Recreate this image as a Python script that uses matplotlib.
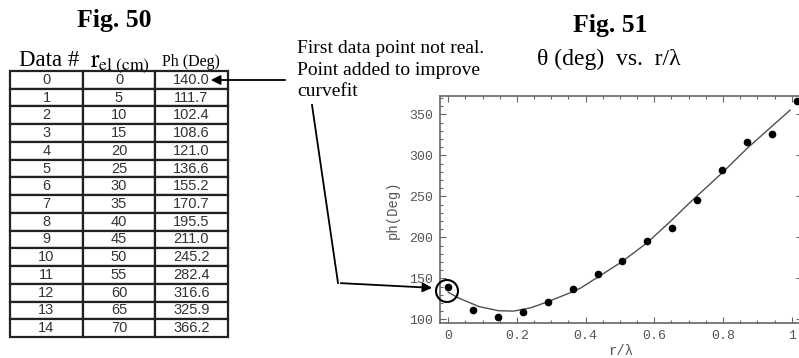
import numpy as np
import matplotlib.pyplot as plt
from matplotlib.patches import Circle

plt.rcParams['mathtext.fontset'] = 'stix'

# table data (Fig. 50)
data_no = list(range(15))
r_el = [0, 5, 10, 15, 20, 25, 30, 35, 40, 45, 50, 55, 60, 65, 70]
ph = [140.0, 111.7, 102.4, 108.6, 121.0, 136.6, 155.2, 170.7,
      195.5, 211.0, 245.2, 282.4, 316.6, 325.9, 366.2]
wavelength = 69.0  # cm

# curve fit (Fig. 51)
fit_x = [0.0, 0.03, 0.09, 0.146, 0.19, 0.24, 0.29, 0.35, 0.385, 0.43,
         0.505, 0.578, 0.646, 0.70, 0.796, 0.869, 0.995]
fit_y = [133, 126, 115.5, 110.5, 110, 114, 121.5, 131.5, 138, 150,
         170, 193, 219, 241, 278, 308, 355]

note = ['First data point not real.', 'Point added to improve', 'curvefit']

W, H = 799, 358
fig = plt.figure(figsize=(W / 100, H / 100), dpi=100)
mono = 'Liberation Mono'
serif = 'Liberation Serif'

# plot axes
ax = fig.add_axes([440 / W, 35 / H, 362 / W, 227.3 / H])
x = np.array(r_el) / wavelength
ax.plot(fit_x, fit_y, color='#505050', lw=1.0)
ax.plot(x, ph, 'o', color='black', ms=4.5)
ax.set_xlim(-0.024, 1.03)
ax.set_ylim(95.5, 372.7)
ax.set_xticks([0, 0.2, 0.4, 0.6, 0.8, 1.0])
ax.set_xticklabels(['0', '0.2', '0.4', '0.6', '0.8', '1'])
ax.set_xticks(np.arange(0, 1.03, 0.05), minor=True)
ax.set_yticks([100, 150, 200, 250, 300, 350])
ax.set_yticks(np.arange(100, 371, 10), minor=True)
ax.tick_params(which='both', direction='in', top=True, right=True,
               colors='#666666', labelcolor='#555555', width=0.8)
ax.tick_params(which='major', length=4, labelsize=9.5, pad=5)
ax.tick_params(which='minor', length=2)
for lab in ax.get_xticklabels() + ax.get_yticklabels():
    lab.set_family(mono)
for s in ax.spines.values():
    s.set_color('#666666')
    s.set_linewidth(1.2)
ax.set_ylabel('ph(Deg)', family=mono, fontsize=10, color='#555555')
ax.yaxis.set_label_coords(-0.11, 0.5)
ax.set_xlabel('r/λ', family=mono, fontsize=10, color='#555555')
ax.xaxis.set_label_coords(0.5, -0.092)

# overlay in pixel units for table and annotations
ov = fig.add_axes([0, 0, 1, 1])
ov.set_xlim(0, W)
ov.set_ylim(H, 0)
ov.axis('off')
ov.set_zorder(5)
ov.patch.set_visible(False)

ov.text(114, 27, 'Fig. 50', family=serif, weight='bold', fontsize=18.5,
        ha='center', va='baseline')
ov.text(610, 32, 'Fig. 51', family=serif, weight='bold', fontsize=18.5,
        ha='center', va='baseline')
ov.text(537, 65, 'θ (deg)  vs.  r/λ', family=serif, fontsize=17,
        ha='left', va='baseline')

ov.text(49, 66.5, 'Data #', family=serif, fontsize=16.5, ha='center', va='baseline')
ov.text(90, 66.5, r'$\mathrm{r}_{\mathrm{el\ (cm)}}$', fontsize=18,
        ha='left', va='baseline')
ov.text(191, 66, 'Ph (Deg)', family=serif, fontsize=11.5, ha='center', va='baseline')

rows = [[str(d), str(r), f'{p:.1f}'] for d, r, p in zip(data_no, r_el, ph)]
top, bot, left, right = 71, 337, 10, 228
tb = ov.table(cellText=rows, cellLoc='center',
              colWidths=[73 / W, 72 / W, 73 / W],
              bbox=[left / W, (H - bot) / H, (right - left) / W, (bot - top) / H])
tb.auto_set_font_size(False)
for cell in tb.get_celld().values():
    cell.set_linewidth(1.6)
    cell.set_edgecolor('#222222')
    cell.get_text().set_fontsize(10.5)
    cell.get_text().set_family('Liberation Sans')
    cell.get_text().set_color('#333333')

# note and arrows
for i, line in enumerate(note):
    ov.text(297, 53 + 21.7 * i, line, family=serif, fontsize=14,
            ha='left', va='baseline')
ov.annotate('', xy=(208, 80), xytext=(288, 80),
            arrowprops=dict(arrowstyle='-|>', color='black', lw=1.3,
                            mutation_scale=14))
ov.plot([312, 338], [105, 283], color='black', lw=1.3)
ov.annotate('', xy=(435, 288), xytext=(338, 283),
            arrowprops=dict(arrowstyle='-|>', color='black', lw=1.3,
                            mutation_scale=14))
ov.add_patch(Circle((447, 291), 11, fill=False, ec='black', lw=1.5))

fig.savefig('out.png', dpi=100)
